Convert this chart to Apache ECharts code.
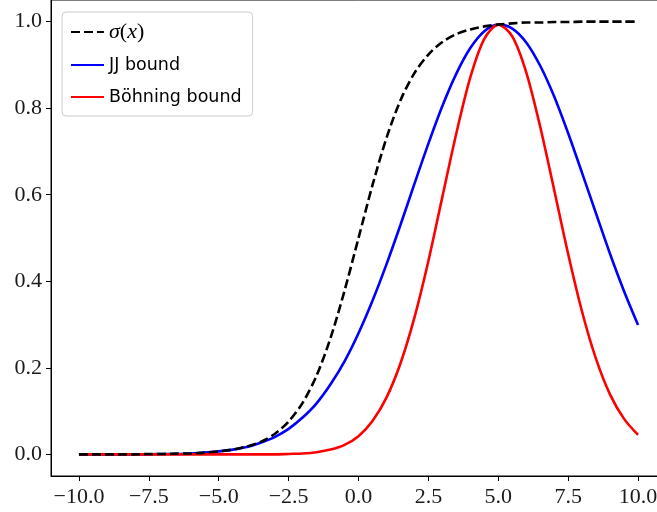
<!DOCTYPE html>
<html>
<head>
<meta charset="utf-8">
<script src="https://cdn.jsdelivr.net/npm/echarts@6/dist/echarts.min.js"></script>
<style>
  html, body { margin: 0; padding: 0; background: #fff; overflow: hidden; }
  /* canvas is a bit wider than the window so the axes box runs past the right edge */
  #chart { width: 680px; height: 512px; }
</style>
</head>
<body>
<div id="chart"></div>
<script>
// sample positions along x
const xs = [-10, -9.5, -9, -8.5, -8, -7.5, -7, -6.5, -6, -5.5, -5, -4.5, -4, -3.5, -3, -2.5, -2, -1.5, -1, -0.5,
            0, 0.5, 1, 1.5, 2, 2.5, 3, 3.5, 4, 4.5, 5, 5.5, 6, 6.5, 7, 7.5, 8, 8.5, 9, 9.5, 10];

// logistic sigmoid
const sigma = [0.000, 0.000, 0.000, 0.000, 0.000, 0.001, 0.001, 0.002, 0.002, 0.004,
               0.007, 0.011, 0.018, 0.029, 0.047, 0.076, 0.119, 0.182, 0.269, 0.378,
               0.500, 0.622, 0.731, 0.818, 0.881, 0.924, 0.953, 0.971, 0.982, 0.989,
               0.993, 0.996, 0.998, 0.998, 0.999, 0.999, 1.000, 1.000, 1.000, 1.000, 1.000];

// Jaakkola-Jordan lower bound
const jjBound = [0.000, 0.000, 0.000, 0.000, 0.000, 0.000, 0.001, 0.001, 0.002, 0.004,
                 0.007, 0.011, 0.017, 0.027, 0.040, 0.059, 0.085, 0.118, 0.162, 0.215,
                 0.280, 0.355, 0.439, 0.530, 0.625, 0.718, 0.805, 0.880, 0.939, 0.978,
                 0.993, 0.984, 0.952, 0.898, 0.827, 0.742, 0.650, 0.556, 0.463, 0.377, 0.299];

// Böhning lower bound
const bohningBound = [0.000, 0.000, 0.000, 0.000, 0.000, 0.000, 0.000, 0.000, 0.000, 0.000,
                      0.000, 0.000, 0.000, 0.000, 0.000, 0.001, 0.002, 0.005, 0.011, 0.022,
                      0.042, 0.077, 0.131, 0.210, 0.316, 0.447, 0.595, 0.742, 0.871, 0.960,
                      0.993, 0.966, 0.883, 0.757, 0.611, 0.463, 0.329, 0.220, 0.138, 0.082, 0.045];

const xTicks = [-10, -7.5, -5, -2.5, 0, 2.5, 5, 7.5, 10];
const yTicks = [0, 0.2, 0.4, 0.6, 0.8, 1.0];

const pairs = ys => xs.map((x, i) => [x, ys[i]]);
const fmt = v => (v < 0 ? '\u2212' : '') + Math.abs(v).toFixed(1);

const tickFont = { fontFamily: 'Liberation Serif', fontSize: 22, color: '#1a1a1a' };

const chart = echarts.init(document.getElementById('chart'), null, { renderer: 'canvas' });
chart.setOption({
  animation: false,
  backgroundColor: '#fff',
  grid: {
    left: 51, top: 0, width: 615, height: 476,
    show: true, borderColor: '#000', borderWidth: 1, backgroundColor: 'transparent'
  },
  xAxis: {
    type: 'value', min: -11, max: 11,
    axisLine: { show: true, onZero: false, lineStyle: { color: '#000', width: 1 } },
    axisTick: { show: true, length: 5, customValues: xTicks, lineStyle: { color: '#000' } },
    axisLabel: Object.assign({ margin: 10, customValues: xTicks, formatter: fmt }, tickFont),
    splitLine: { show: false }
  },
  yAxis: {
    type: 'value', min: -0.05, max: 1.05,
    axisLine: { show: true, onZero: false, lineStyle: { color: '#000', width: 1 } },
    axisTick: { show: true, length: 5, customValues: yTicks, lineStyle: { color: '#000' } },
    axisLabel: Object.assign({ margin: 9, customValues: yTicks, formatter: fmt }, tickFont),
    splitLine: { show: false }
  },
  legend: {
    orient: 'vertical',
    left: 62, top: 12,
    padding: [9, 11, 9, 8],
    itemWidth: 33, itemHeight: 14, itemGap: 12,
    backgroundColor: 'rgba(255,255,255,0.8)',
    borderColor: '#cccccc', borderWidth: 1, borderRadius: 4,
    itemStyle: { opacity: 0 },
    data: ['sigma', 'JJ bound', 'Böhning bound'],
    formatter: name => name === 'sigma' ? '{i|σ}{r|(}{i|x}{r|)}' : name,
    textStyle: {
      fontFamily: 'DejaVu Sans', fontSize: 17.5, color: '#000', lineHeight: 20,
      rich: {
        i: { fontFamily: 'Liberation Serif', fontStyle: 'italic', fontSize: 22, color: '#000' },
        r: { fontFamily: 'Liberation Serif', fontSize: 22, color: '#000' }
      }
    }
  },
  series: [
    {
      name: 'sigma', type: 'line', data: pairs(sigma), symbol: 'none', smooth: 0.3,
      lineStyle: { color: '#000', width: 2.6, type: [9, 4] }, itemStyle: { color: '#000' }, z: 3
    },
    {
      name: 'JJ bound', type: 'line', data: pairs(jjBound), symbol: 'none', smooth: 0.3,
      lineStyle: { color: '#0000ff', width: 2.6 }, itemStyle: { color: '#0000ff' }, z: 2
    },
    {
      name: 'Böhning bound', type: 'line', data: pairs(bohningBound), symbol: 'none', smooth: 0.3,
      lineStyle: { color: '#ff0000', width: 2.6 }, itemStyle: { color: '#ff0000' }, z: 2
    }
  ]
});
</script>
</body>
</html>
